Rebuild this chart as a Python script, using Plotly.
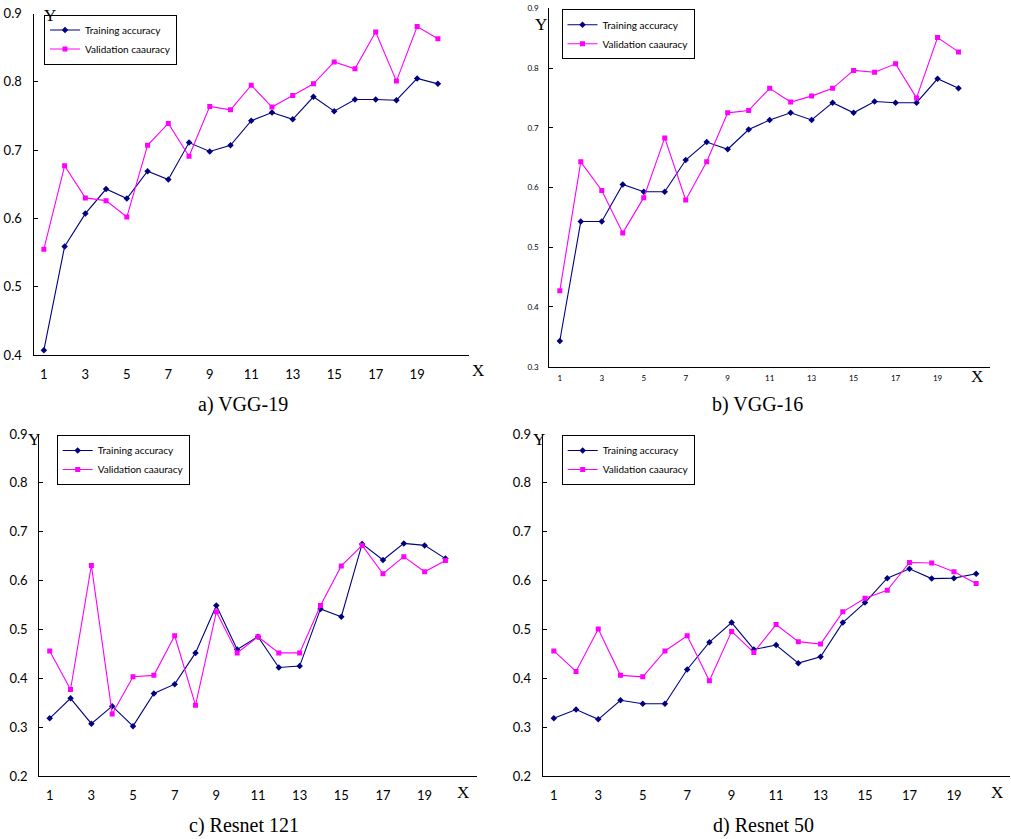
import plotly.graph_objects as go

W, H = 1011, 839

# ---------------- data ----------------
epochs = list(range(1, 21))
x_tick_vals = [1, 3, 5, 7, 9, 11, 13, 15, 17, 19]
x_tick_text = ["1", "3", "5", "7", "9", "11", "13", "15", "17", "19"]

yticks_a = [0.4, 0.5, 0.6, 0.7, 0.8, 0.9]
yticks_b = [0.3, 0.4, 0.5, 0.6, 0.7, 0.8, 0.9]
yticks_cd = [0.2, 0.3, 0.4, 0.5, 0.6, 0.7, 0.8, 0.9]

vgg19_train = [0.407, 0.559, 0.607, 0.643, 0.629, 0.669, 0.657, 0.711, 0.698, 0.707,
               0.743, 0.755, 0.745, 0.778, 0.757, 0.774, 0.774, 0.773, 0.805, 0.797]
vgg19_val = [0.555, 0.677, 0.630, 0.626, 0.602, 0.707, 0.739, 0.691, 0.764, 0.759,
             0.795, 0.763, 0.780, 0.797, 0.829, 0.819, 0.873, 0.801, 0.881, 0.863]

vgg16_train = [0.343, 0.543, 0.543, 0.605, 0.593, 0.593, 0.646, 0.676, 0.664, 0.697,
               0.713, 0.725, 0.713, 0.742, 0.725, 0.744, 0.742, 0.742, 0.782, 0.766]
vgg16_val = [0.427, 0.643, 0.595, 0.524, 0.583, 0.683, 0.579, 0.643, 0.725, 0.729,
             0.766, 0.743, 0.753, 0.766, 0.796, 0.793, 0.807, 0.750, 0.851, 0.827]

resnet121_train = [0.318, 0.359, 0.307, 0.343, 0.302, 0.369, 0.388, 0.452, 0.549, 0.459,
                   0.485, 0.422, 0.425, 0.542, 0.526, 0.675, 0.642, 0.676, 0.672, 0.645]
resnet121_val = [0.456, 0.377, 0.631, 0.327, 0.403, 0.406, 0.487, 0.345, 0.536, 0.452,
                 0.485, 0.452, 0.452, 0.549, 0.630, 0.672, 0.614, 0.649, 0.618, 0.641]

resnet50_train = [0.318, 0.336, 0.316, 0.355, 0.348, 0.348, 0.418, 0.474, 0.514, 0.459,
                  0.468, 0.431, 0.444, 0.514, 0.555, 0.605, 0.624, 0.604, 0.605, 0.614]
resnet50_val = [0.456, 0.414, 0.501, 0.406, 0.403, 0.456, 0.487, 0.395, 0.496, 0.453,
                0.510, 0.475, 0.470, 0.536, 0.564, 0.580, 0.637, 0.636, 0.618, 0.594]

series_names = ["Training accuracy", "Validation caauracy"]
captions = ["a) VGG-19", "b) VGG-16", "c) Resnet 121", "d) Resnet 50"]

# ---------------- layout helpers (pixel -> paper) ----------------
def px(x):
    return x / W

def py(y):
    return 1 - y / H

TRAIN_COLOR = "#000080"
VAL_COLOR = "#FF00FF"
SANS = "Lato, Open Sans, sans-serif"
SERIF = "Liberation Serif, Times New Roman, serif"

panels = [
    dict(train=vgg19_train, val=vgg19_val, yticks=yticks_a, box=(33.5, 469, 13.5, 355),
         fs=13, leg=(44, 14.5), cap=(243, 405), X=(478, 370), Y=(50, 16)),
    dict(train=vgg16_train, val=vgg16_val, yticks=yticks_b, box=(549.3, 990, 8.3, 366.7),
         fs=8, leg=(561.5, 9.3), cap=(757, 405), X=(977, 376), Y=(541, 25)),
    dict(train=resnet121_train, val=resnet121_val, yticks=yticks_cd, box=(39.3, 476.7, 434, 776),
         fs=13, leg=(56.7, 435), cap=(244, 825), X=(463, 792), Y=(34, 439)),
    dict(train=resnet50_train, val=resnet50_val, yticks=yticks_cd, box=(542.7, 1009.5, 434, 776),
         fs=13, leg=(561.7, 435), cap=(763, 825), X=(997, 792), Y=(539, 439)),
]

fig = go.Figure()
annotations = []
layout = dict(
    template="none",
    width=W, height=H, margin=dict(l=0, r=0, t=0, b=0, autoexpand=False),
    paper_bgcolor="white", plot_bgcolor="white",
)

for i, p in enumerate(panels):
    n = "" if i == 0 else str(i + 1)
    xa, ya = "x" + n, "y" + n
    leg = "legend" + n
    x0, x1, y0, y1 = p["box"]
    fig.add_trace(go.Scatter(
        x=epochs, y=p["train"], mode="lines+markers", name=series_names[0],
        line=dict(color=TRAIN_COLOR, width=1.1),
        marker=dict(symbol="diamond", size=5, color=TRAIN_COLOR),
        xaxis=xa, yaxis=ya, legend=leg, showlegend=True,
    ))
    fig.add_trace(go.Scatter(
        x=epochs, y=p["val"], mode="lines+markers", name=series_names[1],
        line=dict(color=VAL_COLOR, width=1.1),
        marker=dict(symbol="square", size=5, color=VAL_COLOR),
        xaxis=xa, yaxis=ya, legend=leg, showlegend=True,
    ))
    yt = p["yticks"]
    layout["xaxis" + n] = dict(
        domain=[px(x0), px(x1)], range=[0.5, 21.5], anchor=ya, automargin=False,
        tickvals=x_tick_vals, ticktext=x_tick_text, ticks="",
        showline=True, linecolor="black", linewidth=1.3, showgrid=False, zeroline=False,
        tickfont=dict(family=SANS, size=p["fs"], color="black"),
        ticklabelstandoff=7 if p["fs"] > 10 else 4, fixedrange=True,
    )
    layout["yaxis" + n] = dict(
        domain=[py(y1), py(y0)], range=[yt[0], yt[-1]], anchor=xa, automargin=False,
        tickvals=yt, ticktext=["%.1f" % v for v in yt], ticks="inside", ticklen=4,
        tickcolor="black", tickwidth=1,
        showline=True, linecolor="black", linewidth=1.3, showgrid=False, zeroline=False,
        tickfont=dict(family=SANS, size=p["fs"], color="black"),
        ticklabelstandoff=8, fixedrange=True,
    )
    layout[leg] = dict(
        x=px(p["leg"][0]), y=py(p["leg"][1]), xanchor="left", yanchor="top",
        bgcolor="white", bordercolor="black", borderwidth=1,
        font=dict(family=SANS, size=10, color="black"),
        tracegroupgap=0, itemwidth=30,
    )
    annotations.append(dict(
        text=captions[i], x=px(p["cap"][0]), y=py(p["cap"][1]), xref="paper", yref="paper",
        xanchor="center", yanchor="middle", showarrow=False,
        font=dict(family=SERIF, size=20, color="black"),
    ))
    annotations.append(dict(
        text="X", x=px(p["X"][0]), y=py(p["X"][1]), xref="paper", yref="paper",
        xanchor="center", yanchor="middle", showarrow=False,
        font=dict(family=SERIF, size=17, color="black"),
    ))
    annotations.append(dict(
        text="Y", x=px(p["Y"][0]), y=py(p["Y"][1]), xref="paper", yref="paper",
        xanchor="center", yanchor="middle", showarrow=False,
        font=dict(family=SERIF, size=17, color="black"),
    ))

layout["annotations"] = annotations
fig.update_layout(**layout)
fig.write_html(
    "out.html",
    config={"displayModeBar": False},
    post_script="document.body.style.margin='0';document.body.style.overflow='hidden';",
)
